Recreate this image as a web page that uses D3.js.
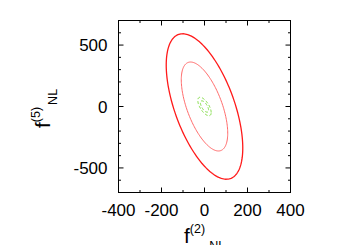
<!DOCTYPE html>
<html>
<head>
<meta charset="utf-8">
<script src="https://cdn.jsdelivr.net/npm/d3@7"></script>
<style>
  body { margin: 0; background: #fff; }
  text { font-family: "Liberation Sans", Arial, sans-serif; fill: #000; }
</style>
</head>
<body>
<div id="chart"></div>
<script>
// Axis ranges and ticks
const xDomain = [-400, 400];
const yDomain = [-700, 700];
const xLabels = [-400, -200, 0, 200, 400];
const yLabels = [-500, 0, 500];
const xMinor = [-300, -200, -100, 0, 100, 200, 300];
const yMinor = [-600, -500, -400, -300, -200, -100, 0, 100, 200, 300, 400, 500, 600];

// Error ellipses: sigma x, sigma y, correlation
const ellipseNames = ["outer", "inner", "greenOuter", "greenInner"];
const ellipseSx = [178, 108, 31, 19];
const ellipseSy = [592, 362, 75, 46];
const ellipseRho = [-0.57, -0.6, -0.65, -0.65];
const ellipseColor = ["#ff1a1a", "#ff6a6a", "#77dd33", "#77dd33"];
const ellipseWidth = [1.3, 1, 1, 1];
const ellipseDash = [null, null, "3,2", "3,2"];

const svgWidth = 350, svgHeight = 245;
const margin = {top: 20.5, right: 59.5, bottom: 52.5, left: 118.5};

const svg = d3.select('#chart').append('svg')
  .attr('width', svgWidth)
  .attr('height', svgHeight);

const xScale = d3.scaleLinear().domain(xDomain).range([margin.left, svgWidth - margin.right]);
const yScale = d3.scaleLinear().domain(yDomain).range([svgHeight - margin.bottom, margin.top]);

const x0 = xScale.range()[0], x1 = xScale.range()[1];
const y0 = yScale.range()[0], y1 = yScale.range()[1];

// Ellipses
const line = d3.line()
  .x(d => xScale(d[0]))
  .y(d => yScale(d[1]))
  .curve(d3.curveLinearClosed);

const ts = d3.range(0, 2 * Math.PI, Math.PI / 90);
ellipseNames.forEach((name, i) => {
  const sx = ellipseSx[i], sy = ellipseSy[i], r = ellipseRho[i];
  const pts = ts.map(t => [sx * Math.cos(t), sy * (r * Math.cos(t) + Math.sqrt(1 - r * r) * Math.sin(t))]);
  svg.append("path")
    .attr("class", "ellipse " + name)
    .attr("d", line(pts))
    .attr("fill", "none")
    .attr("stroke", ellipseColor[i])
    .attr("stroke-width", ellipseWidth[i])
    .attr("stroke-dasharray", ellipseDash[i]);
});

// Ticks on all four sides
const ticks = svg.append("g").attr("stroke", "#000").attr("stroke-width", 1);
xMinor.forEach(v => {
  const len = xLabels.includes(v) ? 5 : 2.5;
  ticks.append("line").attr("x1", xScale(v)).attr("x2", xScale(v)).attr("y1", y0).attr("y2", y0 - len);
  ticks.append("line").attr("x1", xScale(v)).attr("x2", xScale(v)).attr("y1", y1).attr("y2", y1 + len);
});
yMinor.forEach(v => {
  const len = yLabels.includes(v) ? 5 : 2.5;
  ticks.append("line").attr("y1", yScale(v)).attr("y2", yScale(v)).attr("x1", x0).attr("x2", x0 + len);
  ticks.append("line").attr("y1", yScale(v)).attr("y2", yScale(v)).attr("x1", x1).attr("x2", x1 - len);
});

// Frame
svg.append("rect")
  .attr("x", x0).attr("y", y1)
  .attr("width", x1 - x0).attr("height", y0 - y1)
  .attr("fill", "none").attr("stroke", "#000").attr("stroke-width", 1);

// Tick labels
svg.selectAll(".xlab").data(xLabels).enter().append("text")
  .attr("class", "xlab")
  .attr("x", d => xScale(d))
  .attr("y", y0 + 23.5)
  .attr("text-anchor", "middle")
  .style("font-size", "17px")
  .text(d => d);

svg.selectAll(".ylab").data(yLabels).enter().append("text")
  .attr("class", "ylab")
  .attr("x", x0 - 11)
  .attr("y", d => yScale(d))
  .attr("dy", "0.36em")
  .attr("text-anchor", "end")
  .style("font-size", "17px")
  .text(d => d);

// Axis titles
function title(g, sup, gap) {
  g.append("tspan").text("f");
  g.append("tspan").attr("dy", -10).style("font-size", "12.5px").text(sup);
  g.append("tspan").attr("dx", gap).attr("dy", 17).style("font-size", "12.5px").text("NL");
}

const xt = svg.append("text")
  .attr("x", 184).attr("y", 243)
  .style("font-size", "21px");
title(xt, "(2)", 4);

const yt = svg.append("text")
  .attr("transform", "translate(50,128) rotate(-90)")
  .style("font-size", "21px");
title(yt, "(5)", 2);
</script>
</body>
</html>
